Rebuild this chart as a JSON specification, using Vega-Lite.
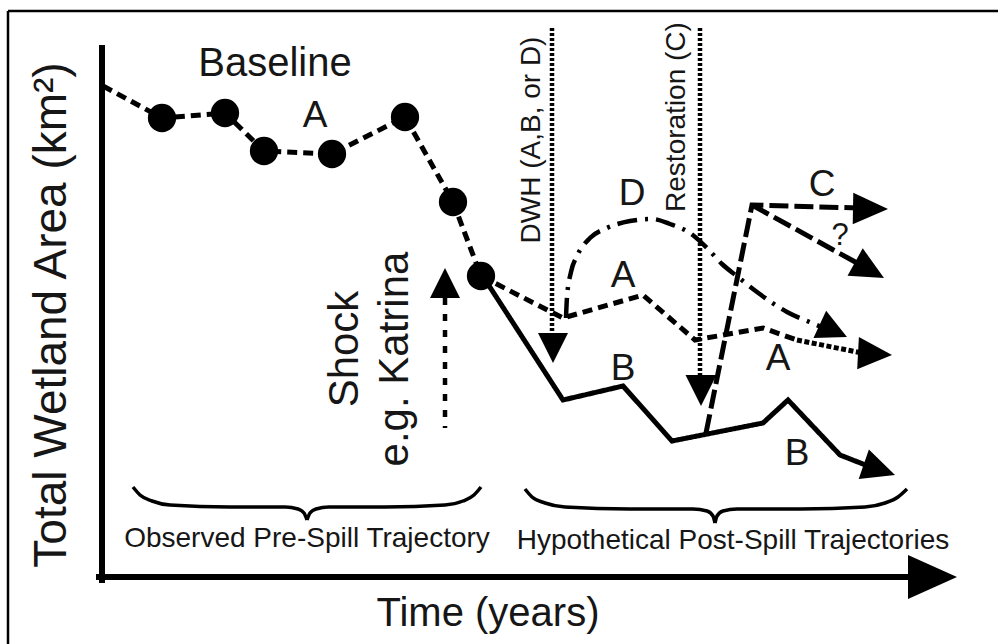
{
  "$schema": "https://vega.github.io/schema/vega-lite/v6.json",
  "width": 998,
  "height": 644,
  "autosize": {"type": "none"},
  "padding": 0,
  "background": "white",
  "config": {"view": {"stroke": null}, "text": {"font": "Liberation Sans", "color": "#161616"}},
  "datasets": {
    "traj": [
      {"series": "A", "x": 103, "y": 86, "obs": false},
      {"series": "A", "x": 162, "y": 118, "obs": true},
      {"series": "A", "x": 225, "y": 113, "obs": true},
      {"series": "A", "x": 264, "y": 151, "obs": true},
      {"series": "A", "x": 332, "y": 154, "obs": true},
      {"series": "A", "x": 405, "y": 117, "obs": true},
      {"series": "A", "x": 453, "y": 202, "obs": true},
      {"series": "A", "x": 481, "y": 276, "obs": true},
      {"series": "A", "x": 563, "y": 318, "obs": false},
      {"series": "A", "x": 643, "y": 295, "obs": false},
      {"series": "A", "x": 695, "y": 340, "obs": false},
      {"series": "A", "x": 763, "y": 328, "obs": false},
      {"series": "A", "x": 797, "y": 340, "obs": false},
      {"series": "A-proj", "x": 797, "y": 340, "obs": false},
      {"series": "A-proj", "x": 862, "y": 353, "obs": false},
      {"series": "B", "x": 484, "y": 278, "obs": false},
      {"series": "B", "x": 563, "y": 400, "obs": false},
      {"series": "B", "x": 623, "y": 386, "obs": false},
      {"series": "B", "x": 672, "y": 441, "obs": false},
      {"series": "B", "x": 763, "y": 423, "obs": false},
      {"series": "B", "x": 788, "y": 400, "obs": false},
      {"series": "B", "x": 840, "y": 455, "obs": false},
      {"series": "B", "x": 868, "y": 466, "obs": false},
      {"series": "C", "x": 706, "y": 433, "obs": false},
      {"series": "C", "x": 752, "y": 205, "obs": false},
      {"series": "C", "x": 858, "y": 208, "obs": false},
      {"series": "C?", "x": 752, "y": 205, "obs": false},
      {"series": "C?", "x": 857, "y": 263, "obs": false}
    ],
    "dcurve": [
      {"x": 566, "y": 318}, {"x": 567, "y": 297}, {"x": 571, "y": 272}, {"x": 577, "y": 256},
      {"x": 590, "y": 238}, {"x": 607, "y": 228}, {"x": 630, "y": 221}, {"x": 652, "y": 219},
      {"x": 670, "y": 224}, {"x": 690, "y": 233}, {"x": 707, "y": 248}, {"x": 722, "y": 264},
      {"x": 738, "y": 277}, {"x": 757, "y": 292}, {"x": 787, "y": 312}, {"x": 812, "y": 323},
      {"x": 826, "y": 329}
    ],
    "braces": [
      {"part": "L1", "x": 133, "y": 487}, {"part": "L1", "x": 140, "y": 495}, {"part": "L1", "x": 152, "y": 501},
      {"part": "L1", "x": 170, "y": 505}, {"part": "L1", "x": 230, "y": 507}, {"part": "L1", "x": 285, "y": 507},
      {"part": "L1", "x": 298, "y": 509}, {"part": "L1", "x": 304, "y": 513}, {"part": "L1", "x": 307, "y": 520},
      {"part": "L2", "x": 307, "y": 520}, {"part": "L2", "x": 310, "y": 513}, {"part": "L2", "x": 316, "y": 509},
      {"part": "L2", "x": 329, "y": 507}, {"part": "L2", "x": 385, "y": 507}, {"part": "L2", "x": 445, "y": 505},
      {"part": "L2", "x": 463, "y": 501}, {"part": "L2", "x": 474, "y": 495}, {"part": "L2", "x": 481, "y": 487},
      {"part": "R1", "x": 525, "y": 489}, {"part": "R1", "x": 532, "y": 497}, {"part": "R1", "x": 545, "y": 503},
      {"part": "R1", "x": 565, "y": 507}, {"part": "R1", "x": 630, "y": 509}, {"part": "R1", "x": 693, "y": 509},
      {"part": "R1", "x": 707, "y": 511}, {"part": "R1", "x": 713, "y": 516}, {"part": "R1", "x": 715, "y": 523},
      {"part": "R2", "x": 715, "y": 523}, {"part": "R2", "x": 717, "y": 516}, {"part": "R2", "x": 723, "y": 511},
      {"part": "R2", "x": 737, "y": 509}, {"part": "R2", "x": 800, "y": 509}, {"part": "R2", "x": 865, "y": 507},
      {"part": "R2", "x": 885, "y": 503}, {"part": "R2", "x": 898, "y": 497}, {"part": "R2", "x": 907, "y": 489}
    ],
    "rules": [
      {"kind": "border", "x": 8, "y": 11, "x2": 998, "y2": 11},
      {"kind": "border", "x": 8, "y": 11, "x2": 8, "y2": 644},
      {"kind": "axis", "x": 102, "y": 48, "x2": 102, "y2": 580},
      {"kind": "axis", "x": 99, "y": 577, "x2": 915, "y2": 577},
      {"kind": "event", "x": 552, "y": 28, "x2": 552, "y2": 336},
      {"kind": "event", "x": 700, "y": 28, "x2": 700, "y2": 378},
      {"kind": "shock", "x": 445, "y": 298, "x2": 445, "y2": 428}
    ],
    "arrows": [
      {"name": "time", "x": 957, "y": 577},
      {"name": "DWH", "x": 553, "y": 363},
      {"name": "Restoration", "x": 701, "y": 406},
      {"name": "Shock", "x": 445, "y": 268},
      {"name": "A", "x": 892, "y": 355},
      {"name": "B", "x": 895, "y": 475},
      {"name": "C", "x": 888, "y": 209},
      {"name": "C?", "x": 884, "y": 278},
      {"name": "D", "x": 847, "y": 337}
    ],
    "labels": [
      {"kind": "big", "text": "Baseline", "x": 275, "y": 76},
      {"kind": "big", "text": "Time (years)", "x": 488, "y": 626},
      {"kind": "letter", "text": "A", "x": 315, "y": 127},
      {"kind": "letter", "text": "D", "x": 632, "y": 205},
      {"kind": "letter", "text": "A", "x": 623, "y": 287},
      {"kind": "letter", "text": "B", "x": 623, "y": 380},
      {"kind": "letter", "text": "A", "x": 778, "y": 370},
      {"kind": "letter", "text": "B", "x": 797, "y": 465},
      {"kind": "letter", "text": "C", "x": 822, "y": 196},
      {"kind": "query", "text": "?", "x": 840, "y": 245},
      {"kind": "caption", "text": "Observed Pre-Spill Trajectory", "x": 307, "y": 547},
      {"kind": "caption", "text": "Hypothetical Post-Spill Trajectories", "x": 733, "y": 549},
      {"kind": "ytitle", "text": "Total Wetland Area (km²)", "x": 66, "y": 315},
      {"kind": "shock", "text": "Shock", "x": 358, "y": 349},
      {"kind": "shock", "text": "e.g. Katrina", "x": 408, "y": 359},
      {"kind": "event", "text": "DWH (A,B, or D)", "x": 540, "y": 140},
      {"kind": "event", "text": "Restoration (C)", "x": 685, "y": 117}
    ]
  },
  "encoding": {
    "x": {"field": "x", "type": "quantitative", "scale": {"domain": [0, 998], "nice": false, "zero": false}, "axis": null},
    "y": {"field": "y", "type": "quantitative", "scale": {"domain": [0, 644], "nice": false, "zero": false, "reverse": true}, "axis": null}
  },
  "layer": [
    {"data": {"name": "rules"}, "transform": [{"filter": "datum.kind === 'border'"}],
     "mark": {"type": "rule", "color": "black", "strokeWidth": 2.5},
     "encoding": {"x2": {"field": "x2"}, "y2": {"field": "y2"}}},
    {"data": {"name": "rules"}, "transform": [{"filter": "datum.kind === 'axis'"}],
     "mark": {"type": "rule", "color": "black", "strokeWidth": 6, "strokeCap": "square"},
     "encoding": {"x2": {"field": "x2"}, "y2": {"field": "y2"}}},
    {"data": {"name": "rules"}, "transform": [{"filter": "datum.kind === 'event'"}],
     "mark": {"type": "rule", "color": "black", "strokeWidth": 4.5, "strokeDash": [3, 2]},
     "encoding": {"x2": {"field": "x2"}, "y2": {"field": "y2"}}},
    {"data": {"name": "rules"}, "transform": [{"filter": "datum.kind === 'shock'"}],
     "mark": {"type": "rule", "color": "black", "strokeWidth": 4.5, "strokeDash": [7, 9]},
     "encoding": {"x2": {"field": "x2"}, "y2": {"field": "y2"}}},
    {"data": {"name": "braces"},
     "mark": {"type": "line", "color": "black", "strokeWidth": 3.5, "interpolate": "monotone"},
     "encoding": {"detail": {"field": "part"}}},
    {"data": {"name": "traj"},
     "mark": {"type": "line", "color": "black", "strokeWidth": 5, "strokeCap": "butt"},
     "encoding": {"strokeDash": {"field": "series", "type": "nominal", "legend": null,
       "scale": {"domain": ["A", "A-proj", "B", "C", "C?"], "range": [[10, 6], [5, 2.5], [1, 0], [19, 6], [19, 6]]}}}},
    {"data": {"name": "dcurve"},
     "mark": {"type": "line", "color": "black", "strokeWidth": 4.5, "interpolate": "monotone", "strokeDash": [20, 8, 3, 8]},
     "encoding": {}},
    {"data": {"name": "traj"}, "transform": [{"filter": "datum.obs"}],
     "mark": {"type": "circle", "color": "black", "size": 800, "opacity": 1}},
    {"data": {"name": "arrows"}, "transform": [{"filter": "datum.name === 'time'"}],
     "mark": {"type": "point", "shape": "M0,0L-2,-0.9L-2,0.9Z", "filled": true, "color": "black", "opacity": 1, "size": 2401, "angle": 0}},
    {"data": {"name": "arrows"}, "transform": [{"filter": "datum.name === 'DWH'"}],
     "mark": {"type": "point", "shape": "M0,0L-2,-1L-2,1Z", "filled": true, "color": "black", "opacity": 1, "size": 900, "angle": 90}},
    {"data": {"name": "arrows"}, "transform": [{"filter": "datum.name === 'Restoration'"}],
     "mark": {"type": "point", "shape": "M0,0L-2,-1L-2,1Z", "filled": true, "color": "black", "opacity": 1, "size": 961, "angle": 90}},
    {"data": {"name": "arrows"}, "transform": [{"filter": "datum.name === 'Shock'"}],
     "mark": {"type": "point", "shape": "M0,0L-2,-1L-2,1Z", "filled": true, "color": "black", "opacity": 1, "size": 900, "angle": 270}},
    {"data": {"name": "arrows"}, "transform": [{"filter": "datum.name === 'A'"}],
     "mark": {"type": "point", "shape": "M0,0L-2,-0.95L-2,0.95Z", "filled": true, "color": "black", "opacity": 1, "size": 1156, "angle": 3}},
    {"data": {"name": "arrows"}, "transform": [{"filter": "datum.name === 'B'"}],
     "mark": {"type": "point", "shape": "M0,0L-2,-0.95L-2,0.95Z", "filled": true, "color": "black", "opacity": 1, "size": 1089, "angle": 19}},
    {"data": {"name": "arrows"}, "transform": [{"filter": "datum.name === 'C'"}],
     "mark": {"type": "point", "shape": "M0,0L-2,-0.9L-2,0.9Z", "filled": true, "color": "black", "opacity": 1, "size": 1225, "angle": 1}},
    {"data": {"name": "arrows"}, "transform": [{"filter": "datum.name === 'C?'"}],
     "mark": {"type": "point", "shape": "M0,0L-2,-0.95L-2,0.95Z", "filled": true, "color": "black", "opacity": 1, "size": 1089, "angle": 29}},
    {"data": {"name": "arrows"}, "transform": [{"filter": "datum.name === 'D'"}],
     "mark": {"type": "point", "shape": "M0,0L-2,-1L-2,1Z", "filled": true, "color": "black", "opacity": 1, "size": 900, "angle": 25}},
    {"data": {"name": "labels"}, "transform": [{"filter": "datum.kind === 'big'"}],
     "mark": {"type": "text", "fontSize": 40, "align": "center", "baseline": "alphabetic"},
     "encoding": {"text": {"field": "text"}}},
    {"data": {"name": "labels"}, "transform": [{"filter": "datum.kind === 'letter'"}],
     "mark": {"type": "text", "fontSize": 37, "align": "center", "baseline": "alphabetic"},
     "encoding": {"text": {"field": "text"}}},
    {"data": {"name": "labels"}, "transform": [{"filter": "datum.kind === 'query'"}],
     "mark": {"type": "text", "fontSize": 31, "align": "center", "baseline": "alphabetic"},
     "encoding": {"text": {"field": "text"}}},
    {"data": {"name": "labels"}, "transform": [{"filter": "datum.kind === 'caption'"}],
     "mark": {"type": "text", "fontSize": 28, "align": "center", "baseline": "alphabetic"},
     "encoding": {"text": {"field": "text"}}},
    {"data": {"name": "labels"}, "transform": [{"filter": "datum.kind === 'ytitle'"}],
     "mark": {"type": "text", "fontSize": 46, "align": "center", "baseline": "alphabetic", "angle": 270},
     "encoding": {"text": {"field": "text"}}},
    {"data": {"name": "labels"}, "transform": [{"filter": "datum.kind === 'shock'"}],
     "mark": {"type": "text", "fontSize": 42, "align": "center", "baseline": "alphabetic", "angle": 270},
     "encoding": {"text": {"field": "text"}}},
    {"data": {"name": "labels"}, "transform": [{"filter": "datum.kind === 'event'"}],
     "mark": {"type": "text", "fontSize": 28, "align": "center", "baseline": "alphabetic", "angle": 270},
     "encoding": {"text": {"field": "text"}}}
  ]
}
